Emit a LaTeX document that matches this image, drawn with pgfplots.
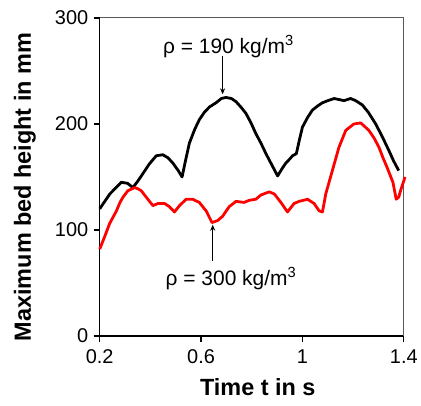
\documentclass[border=0pt]{standalone}
\usepackage{pgfplots}
\pgfplotsset{compat=1.18}
\usetikzlibrary{arrows.meta}
\usepackage{fontspec}
\setmainfont{Liberation Sans}
\begin{document}
\begin{tikzpicture}
\begin{axis}[
  scale only axis, width=305pt, height=319pt,
  xmin=0.2, xmax=1.4, ymin=0, ymax=300,
  axis lines*=left,
  axis line style={line width=1.3pt},
  xtick={0.2,0.6,1,1.4}, xticklabels={0.2,0.6,1,1.4},
  ytick={0,100,200,300},
  tick align=outside, major tick length=6pt,
  tick style={line width=1.3pt, black},
  /pgf/number format/assume math mode=true,
  tick label style={font=\fontsize{20}{22}\selectfont},
  xticklabel style={yshift=-4pt},
  yticklabel style={xshift=-2pt},
  xlabel={\textbf{Time t in s}},
  ylabel={\textbf{Maximum bed height in mm}},
  label style={font=\fontsize{23.5}{26}\selectfont},
  xlabel style={at={(axis description cs:0.5,0)}, anchor=center, yshift=-51pt, xshift=6pt},
  ylabel style={at={(axis description cs:0,0.5)}, anchor=center, yshift=75pt, xshift=-10pt},
  clip=false,
]
\draw[gray!70!black, line width=1pt] (rel axis cs:0,1) -- (rel axis cs:1,1) -- (rel axis cs:1,0);
\addplot[black, line width=2.8pt, line join=round] coordinates {
(0.2,120) (0.24,134) (0.285,145) (0.31,144) (0.331,140) (0.35,146) (0.37,153) (0.395,162) (0.423,170) (0.449,171) (0.47,168) (0.489,163) (0.51,156) (0.525,150)
(0.54,167) (0.554,182) (0.575,195) (0.593,204) (0.613,211) (0.633,216) (0.659,220) (0.68,224) (0.698,225) (0.72,224) (0.738,221) (0.757,216) (0.777,210) (0.797,201) (0.816,191) (0.836,182) (0.856,172) (0.88,161) (0.902,151)
(0.92,158) (0.934,163) (0.95,167) (0.961,170) (0.976,172) (0.988,185) (1.0,197) (1.02,206) (1.039,213) (1.06,217) (1.079,220) (1.1,222) (1.125,224) (1.145,223) (1.164,222) (1.19,224) (1.21,222) (1.236,218) (1.26,211) (1.289,200) (1.315,188) (1.341,175) (1.36,165) (1.38,156)
};
\addplot[red, line width=2.8pt, line join=round] coordinates {
(0.2,82) (0.22,94) (0.239,106) (0.266,118) (0.28,126) (0.292,131) (0.311,137) (0.338,140) (0.35,139) (0.364,137) (0.39,129) (0.41,123) (0.43,125) (0.456,125) (0.475,122) (0.495,117) (0.515,123) (0.541,129) (0.567,129) (0.593,126) (0.62,118) (0.643,107) (0.666,109) (0.685,113) (0.711,122) (0.738,127) (0.77,126) (0.79,128) (0.816,129) (0.836,133) (0.869,136) (0.889,134) (0.915,126) (0.941,117) (0.967,125) (0.987,127) (1.02,129) (1.046,125) (1.066,118) (1.079,117) (1.092,134) (1.118,156) (1.144,178) (1.171,194) (1.203,200) (1.23,201) (1.262,194) (1.282,187) (1.302,178) (1.318,168) (1.334,159) (1.357,145) (1.37,129) (1.38,131) (1.387,137) (1.405,150)
};
\draw[-{Stealth[length=6pt,width=5pt]}, line width=1pt] (axis cs:0.685,264) -- (axis cs:0.685,228);
\draw[-{Stealth[length=6pt,width=5pt]}, line width=1pt] (axis cs:0.646,71) -- (axis cs:0.646,105);
\node[font=\fontsize{21}{24}\selectfont] at (axis cs:0.708,273) {ρ = 190 kg/m\textsuperscript{3}};
\node[font=\fontsize{21}{24}\selectfont] at (axis cs:0.718,54) {ρ = 300 kg/m\textsuperscript{3}};
\path (rel axis cs:0,0) ++(-100pt,-70pt) coordinate (bl);
\path (rel axis cs:1,1) ++(16pt,18pt) coordinate (tr);
\path (bl) rectangle (tr);
\end{axis}
\end{tikzpicture}
\end{document}
